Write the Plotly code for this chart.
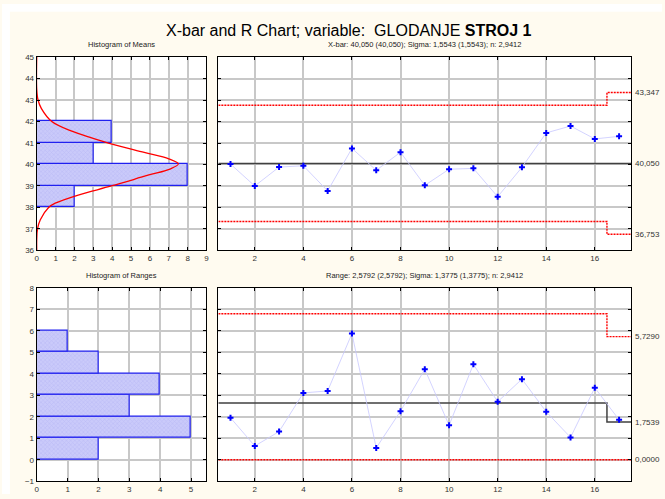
import plotly.graph_objects as go

W, H = 665, 499
# the reference has an 8px white strip on its top and left edges
EDGE = 8

# samples
samples = list(range(1, 18))
xbar = [40.02, 39.00, 39.88, 39.94, 38.77, 40.75, 39.73, 40.57, 39.03,
        39.78, 39.82, 38.50, 39.87, 41.47, 41.79, 41.19, 41.31]
ranges = [1.95, 0.64, 1.31, 3.11, 3.20, 5.87, 0.55, 2.26, 4.21,
          1.60, 4.44, 2.70, 3.75, 2.23, 1.04, 3.35, 1.86]

# control limits, step at 16.5
limit_x = [0.5, 16.5, 17.5]
xbar_center = [40.05, 40.05, 40.05]
xbar_ucl = [42.76, 43.347, 43.347]
xbar_lcl = [37.35, 36.753, 36.753]
r_center = [2.64, 1.7539, 1.7539]
r_ucl = [6.79, 5.729, 5.729]
r_lcl = [0.0, 0.0, 0.0]

# histograms
means_bins = [38.5, 39.5, 40.5, 41.5]
means_counts = [2, 8, 3, 4]
range_bins = [0.5, 1.5, 2.5, 3.5, 4.5, 5.5]
range_counts = [2, 5, 3, 4, 2, 1]

# normal curve on the means histogram
curve_y = [36.0, 36.5, 37.0, 37.43, 38.0, 38.2, 38.58, 39.0, 39.5, 39.8, 40.03,
           40.26, 40.56, 41.0, 41.55, 42.0, 42.6, 43.0, 43.5, 45.0]
curve_x = [0.0, 0.0, 0.04, 0.19, 0.63, 0.98, 2.2, 3.96, 5.9, 7.1, 7.51,
           7.0, 5.7, 3.8, 1.86, 0.8, 0.25, 0.07, 0.0, 0.0]


def px_x(a, b):
    return [a / W, b / W]


def px_y(top, bottom):
    return [1 - bottom / H, 1 - top / H]


def pos_y(a):
    return 1 - a / H


TICK_FONT = dict(family="Liberation Sans, Arial", size=8, color="#333333")
GRID = "#C8C8C8"

fig = go.Figure()

bar_style = dict(
    color="#C8C8FA",
    line=dict(color="#2020F0", width=1.2),
    pattern=dict(shape="x", size=3, fgcolor="#A8A8F0", bgcolor="#CACAFA", solidity=0.3),
)

fig.add_trace(go.Bar(x=means_counts, y=means_bins, orientation="h", width=1,
                     marker=bar_style, xaxis="x", yaxis="y"))
fig.add_trace(go.Scatter(x=curve_x, y=curve_y, mode="lines", line_shape="spline",
                         line=dict(color="#FF0000", width=1.3), xaxis="x", yaxis="y"))

fig.add_trace(go.Bar(x=range_counts, y=range_bins, orientation="h", width=1,
                     marker=bar_style, xaxis="x3", yaxis="y3"))


def control_chart(values, center, ucl, lcl, xa, ya):
    for lim in (ucl, lcl):
        fig.add_trace(go.Scatter(x=limit_x, y=lim, mode="lines", line_shape="hv",
                                 line=dict(color="#FF0000", width=1.4, dash="2px,1px"),
                                 xaxis=xa, yaxis=ya))
    fig.add_trace(go.Scatter(x=limit_x, y=center, mode="lines", line_shape="hv",
                             line=dict(color="#404040", width=1.5),
                             xaxis=xa, yaxis=ya))
    fig.add_trace(go.Scatter(x=samples, y=values, mode="lines+markers",
                             line=dict(color="#C8C8FF", width=0.8),
                             marker=dict(symbol="cross", size=5, color="#0000FF"),
                             xaxis=xa, yaxis=ya))


control_chart(xbar, xbar_center, xbar_ucl, xbar_lcl, "x2", "y2")
control_chart(ranges, r_center, r_ucl, r_lcl, "x4", "y4")

axis_common = dict(
    showline=True, linecolor="#000000", linewidth=1.2, mirror="ticks",
    ticks="inside", ticklen=3, tickcolor="#000000",
    showgrid=True, gridcolor=GRID, gridwidth=1.5,
    zeroline=False, tickfont=TICK_FONT, fixedrange=True,
)

top = px_y(54, 251)
bottom = px_y(289, 486)
left = px_x(35, 206)
right = px_x(218, 634)

fig.update_layout(
    xaxis=dict(axis_common, domain=left, range=[0, 9], dtick=1, anchor="y"),
    yaxis=dict(axis_common, domain=top, range=[36, 45], dtick=1, anchor="x"),
    xaxis2=dict(axis_common, domain=right, range=[0.5, 17.5], dtick=2, tick0=0, anchor="y2"),
    yaxis2=dict(axis_common, domain=top, range=[36, 45], dtick=1, anchor="x2",
                showticklabels=False),
    xaxis3=dict(axis_common, domain=left, range=[0, 5.5], dtick=1, anchor="y3"),
    yaxis3=dict(axis_common, domain=bottom, range=[-1, 8], dtick=1, anchor="x3"),
    xaxis4=dict(axis_common, domain=right, range=[0.5, 17.5], dtick=2, tick0=0, anchor="y4"),
    yaxis4=dict(axis_common, domain=bottom, range=[-1, 8], dtick=1, anchor="x4",
                showticklabels=False),
)

ann = []
right_labels = [
    ("43,347", 43.347, "y2"), ("40,050", 40.05, "y2"), ("36,753", 36.753, "y2"),
    ("5,7290", 5.729, "y4"), ("1,7539", 1.7539, "y4"), ("0,0000", 0.0, "y4"),
]
for text, val, yref in right_labels:
    ann.append(dict(x=right[1] + 2 / W, y=val, xref="paper", yref=yref, text=text,
                    showarrow=False, xanchor="left", yanchor="middle", font=TICK_FONT))

SUB_FONT = dict(family="Liberation Sans, Arial", size=7.5, color="#222222")
titles = [
    ("X-bar and R Chart; variable:&nbsp; GLODANJE <b>STROJ 1</b>", 350 / W, 27,
     dict(family="Liberation Sans, Arial", size=16, color="#000000")),
    ("Histogram of Means", (left[0] + left[1]) / 2, 41, SUB_FONT),
    ("X-bar: 40,050 (40,050); Sigma: 1,5543 (1,5543); n: 2,9412",
     (right[0] + right[1]) / 2, 41, SUB_FONT),
    ("Histogram of Ranges", (left[0] + left[1]) / 2, 276, SUB_FONT),
    ("Range: 2,5792 (2,5792); Sigma: 1,3775 (1,3775); n: 2,9412",
     (right[0] + right[1]) / 2, 276, SUB_FONT),
]
for text, x, y, font in titles:
    ann.append(dict(x=x, y=pos_y(y), xref="paper", yref="paper", text=text,
                    showarrow=False, xanchor="center", yanchor="middle", font=font))

edges = [
    dict(type="rect", xref="paper", yref="paper", x0=0, x1=1, y0=1 - EDGE / H, y1=1,
         fillcolor="#FFFFFF", line=dict(width=0), layer="below"),
    dict(type="rect", xref="paper", yref="paper", x0=0, x1=EDGE / W, y0=0, y1=1,
         fillcolor="#FFFFFF", line=dict(width=0), layer="below"),
]

fig.update_layout(
    width=W, height=H,
    margin=dict(l=0, r=0, t=0, b=0),
    paper_bgcolor="#FFFBF0",
    plot_bgcolor="#FFFFFF",
    showlegend=False,
    bargap=0,
    annotations=ann,
    shapes=edges,
)

fig.write_html(
    "out.html",
    config={"displayModeBar": False},
    post_script="document.body.style.margin='0';"
                "document.documentElement.style.overflow='hidden';",
)
